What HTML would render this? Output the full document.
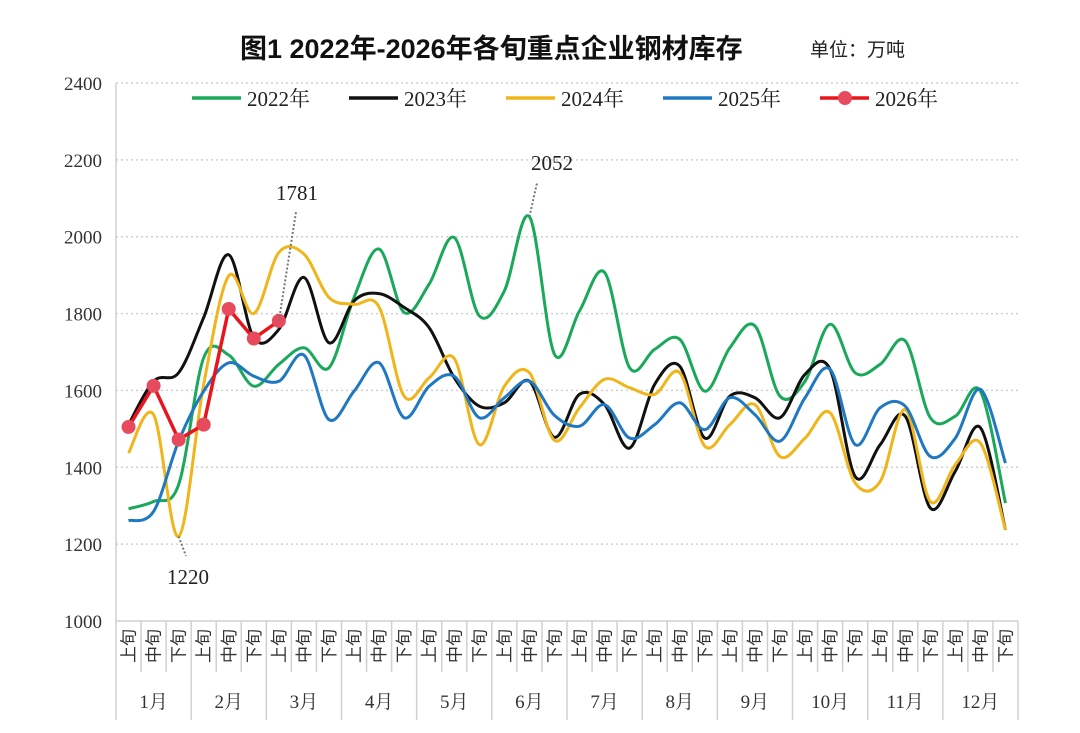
<!DOCTYPE html>
<html><head><meta charset="utf-8">
<style>
html,body{margin:0;padding:0;background:#fff;}
svg{display:block;}
</style></head>
<body>
<svg id="chart" width="1080" height="733" viewBox="0 0 1080 733" xmlns="http://www.w3.org/2000/svg">
  <text x="240" y="58" font-family="'Liberation Sans','Noto Sans CJK SC',sans-serif" font-size="27" font-weight="bold" fill="#111">图1 2022年-2026年各旬重点企业钢材库存</text>
  <text x="810" y="56" font-family="'Liberation Sans','Noto Sans CJK SC',sans-serif" font-size="19" fill="#222">单位：万吨</text>
  <g id="grid"></g>
  <g id="yaxis"></g>
  <g id="xaxis"></g>
  <g id="series"></g>
  <g id="annot"></g>
  <g id="legend"></g>
</svg>
<script>
const months = ['1月','2月','3月','4月','5月','6月','7月','8月','9月','10月','11月','12月'];
const periods = ['上旬','中旬','下旬'];
const yTicks = [1000,1200,1400,1600,1800,2000,2200,2400];
const seriesNames = ['2022年','2023年','2024年','2025年','2026年'];
const seriesColors = ['#1aa85a','#111111','#f0b51a','#1f78c1','#e8161c'];
const s2022 = [1292,1311,1355,1685,1692,1611,1668,1711,1659,1842,1968,1803,1877,1998,1794,1859,2052,1694,1807,1907,1659,1707,1733,1598,1711,1768,1585,1624,1772,1646,1668,1729,1529,1533,1598,1307];
const s2023 = [1511,1624,1646,1790,1953,1737,1759,1894,1724,1833,1852,1816,1763,1633,1559,1568,1624,1478,1590,1563,1450,1616,1663,1476,1585,1581,1529,1642,1655,1376,1459,1533,1294,1390,1503,1237];
const s2024 = [1437,1537,1220,1616,1898,1800,1959,1955,1842,1824,1817,1585,1633,1683,1459,1611,1646,1470,1555,1629,1607,1590,1646,1455,1511,1563,1428,1476,1542,1359,1363,1550,1311,1407,1463,1237];
const s2025 = [1261,1285,1468,1598,1672,1637,1624,1692,1524,1598,1672,1529,1611,1637,1529,1581,1624,1535,1507,1563,1476,1511,1568,1498,1581,1537,1468,1581,1655,1459,1555,1559,1428,1476,1603,1411];
const s2026 = [1505,1612,1472,1511,1812,1735,1781];
const annotations = [{i:6,s:4,label:'1781',tx:297,ty:200,lx:296,ly:212},{i:16,s:0,label:'2052',tx:552,ty:170,lx:537,ly:183},{i:2,s:2,label:'1220',tx:188,ty:584,lx:186,ly:556}];

const NS='http://www.w3.org/2000/svg';
const L=116,R=1018,T=83,B=621,vmin=1000,vmax=2400;
const N=36, cw=(R-L)/N;
const xs=i=>L+cw*(i+0.5);
const ys=v=>B-(v-vmin)/(vmax-vmin)*(B-T);
function mk(tag,attrs,parent){const e=document.createElementNS(NS,tag);for(const k in attrs)e.setAttribute(k,attrs[k]);parent.appendChild(e);return e;}
const serif="'Liberation Serif','Noto Serif CJK SC',serif";
const grid=document.getElementById('grid'),yax=document.getElementById('yaxis'),xax=document.getElementById('xaxis'),ser=document.getElementById('series'),ann=document.getElementById('annot'),leg=document.getElementById('legend');

yTicks.forEach(v=>{
  if(v>vmin){const g=mk('line',{x1:L,x2:R,y1:ys(v),y2:ys(v),stroke:'#cfcfcf','stroke-width':1.5,'stroke-dasharray':'2,3'},grid);
  
  }
  const t=mk('text',{x:L-14,y:ys(v)+7,'text-anchor':'end','font-family':serif,'font-size':19,fill:'#333'},yax);
  t.textContent=v;
  
  
});
mk('line',{x1:L,x2:L,y1:T,y2:720,stroke:'#d0d0d0','stroke-width':1.5},xax);
mk('line',{x1:L,x2:R,y1:B,y2:B,stroke:'#d0d0d0','stroke-width':1.5},xax);
for(let i=0;i<N;i++){
  const x0=L+cw*i;
  if(i>0){mk('line',{x1:x0,x2:x0,y1:B,y2:(i%3==0)?720:672,stroke:'#d0d0d0','stroke-width':1.5},xax);}
  const t=mk('text',{x:0,y:0,'font-family':"'Liberation Serif','Noto Sans CJK SC',serif",'font-size':17,fill:'#333','text-anchor':'middle',transform:`translate(${xs(i)+6},646) rotate(-90)`},xax);
  t.textContent=periods[i%3];
  
  
}
mk('line',{x1:R,x2:R,y1:B,y2:720,stroke:'#d0d0d0','stroke-width':1.5},xax);
months.forEach((m,k)=>{
  const t=mk('text',{x:L+cw*(3*k+1.5),y:708,'text-anchor':'middle','font-family':serif,'font-size':19,fill:'#333'},xax);
  t.textContent=m;
  
  
});

function smoothPath(pts){
  let d=`M${pts[0][0]},${pts[0][1]}`;
  for(let i=0;i<pts.length-1;i++){
    const p0=pts[i-1]||pts[i],p1=pts[i],p2=pts[i+1],p3=pts[i+2]||p2;
    const c1=[p1[0]+(p2[0]-p0[0])/6,p1[1]+(p2[1]-p0[1])/6];
    const c2=[p2[0]-(p3[0]-p1[0])/6,p2[1]-(p3[1]-p1[1])/6];
    d+=` C${c1[0]},${c1[1]} ${c2[0]},${c2[1]} ${p2[0]},${p2[1]}`;
  }
  return d;
}
const allSeries=[s2022,s2023,s2024,s2025,s2026];
[0,1,2,3].forEach(k=>{
  const pts=allSeries[k].map((v,i)=>[xs(i),ys(v)]);
  const p=mk('path',{d:smoothPath(pts),fill:'none',stroke:seriesColors[k],'stroke-width':3,'stroke-linejoin':'round'},ser);
  
  
});
{
  const pts=s2026.map((v,i)=>[xs(i),ys(v)]);
  const p=mk('polyline',{points:pts.map(q=>q.join(',')).join(' '),fill:'none',stroke:seriesColors[4],'stroke-width':3.5},ser);
  
  
  pts.forEach(q=>{
    const c=mk('circle',{cx:q[0],cy:q[1],r:7,fill:'#e64a5c'},ser);
    
    
  });
}
annotations.forEach(a=>{
  const v=allSeries[a.s][a.i];
  mk('line',{x1:xs(a.i),y1:ys(v),x2:a.lx,y2:a.ly,stroke:'#777','stroke-width':2,'stroke-dasharray':'2,2'},ann);
  const t=mk('text',{x:a.tx,y:a.ty,'text-anchor':'middle','font-family':serif,'font-size':21,fill:'#222'},ann);
  t.textContent=a.label;
  
  
});
const legX=[192,349,506,663,820];
seriesNames.forEach((n,k)=>{
  const g=mk('g',{},leg);
  
  
  mk('line',{x1:legX[k],x2:legX[k]+49,y1:98,y2:98,stroke:seriesColors[k],'stroke-width':3.5},g);
  if(k==4) mk('circle',{cx:legX[k]+25,cy:98,r:7,fill:'#e64a5c'},g);
  const t=mk('text',{x:legX[k]+55,y:106,'font-family':"'Liberation Serif','Noto Serif CJK SC',serif",'font-size':21,fill:'#222'},g);
  t.textContent=n;
});
</script>
</body></html>
